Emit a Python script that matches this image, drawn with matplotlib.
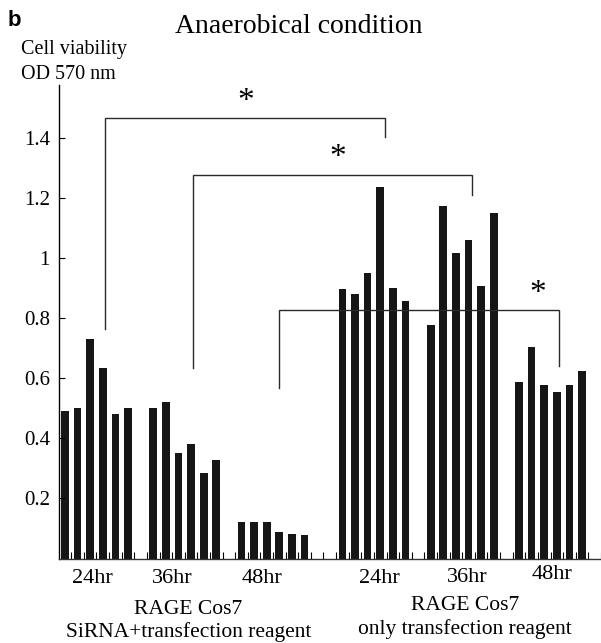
import matplotlib
matplotlib.use("Agg")
import matplotlib.pyplot as plt
from matplotlib.transforms import blended_transform_factory

plt.rcParams['font.family'] = ['Liberation Serif', 'DejaVu Serif']

# cell viability (OD 570 nm), six wells per time point
sirna_24 = [0.49, 0.50, 0.733, 0.636, 0.481, 0.50]
sirna_36 = [0.50, 0.523, 0.351, 0.382, 0.284, 0.328]
sirna_48 = [0.121, 0.121, 0.121, 0.088, 0.083, 0.077]
only_24 = [0.897, 0.882, 0.953, 1.239, 0.903, 0.859]
only_36 = [0.778, 1.175, 1.017, 1.061, 0.909, 1.153]
only_48 = [0.588, 0.706, 0.578, 0.556, 0.578, 0.626]

series = [sirna_24, sirna_36, sirna_48, only_24, only_36, only_48]
group_start = [0, 7, 14, 22, 29, 36]   # slot of first bar in each group
time_labels = ['24hr', '36hr', '48hr', '24hr', '36hr', '48hr']
yticks = [0.2, 0.4, 0.6, 0.8, 1.0, 1.2, 1.4]
ytick_labels = ['0.2', '0.4', '0.6', '0.8', '1', '1.2', '1.4']

# significance brackets: x left, x right, top, left leg bottom, right leg bottom, star x, star y
brackets = [
    (3.2, 25.4, 1.467, 0.764, 1.404, 14.3, 1.523),
    (10.13, 32.25, 1.278, 0.634, 1.211, 21.6, 1.335),
    (16.97, 39.17, 0.828, 0.567, 0.641, 37.5, 0.884),
]

fig = plt.figure(figsize=(6.01, 6.43), dpi=100)
ax = fig.add_axes([0.0977, 0.1314, 0.9023, 0.7364])

for start, vals in zip(group_start, series):
    xs = [start + i for i in range(len(vals))]
    ax.bar(xs, vals, width=0.61, color='#161616', linewidth=0)

for xl, xr, top, yl, yr, sx, sy in brackets:
    ax.plot([xl, xl, xr, xr], [yl, top, top, yr], color='#2a2a2a', lw=1.0,
            solid_joinstyle='miter')
    ax.text(sx, sy, '*', ha='center', va='center', fontsize=24)

ax.set_xlim(-0.49, 42.5)
ax.set_ylim(0, 1.578)
ax.set_yticks(yticks)
ax.set_yticklabels(ytick_labels)
ax.set_xticks([k + 0.5 for k in range(0, 43)])
ax.set_xticklabels([])
ax.tick_params(axis='y', direction='in', length=4.3, width=0.8, pad=6.3,
               labelsize=15)
ax.tick_params(axis='x', direction='in', length=4.8, width=0.8)
for s in ['top', 'right']:
    ax.spines[s].set_visible(False)
ax.spines['left'].set_linewidth(1.0)
ax.spines['bottom'].set_linewidth(1.0)
ax.spines['bottom'].set_color('#333333')

tr = blended_transform_factory(ax.transData, fig.transFigure)
label_x = [2.2, 8.5, 15.66, 24.9, 31.86, 38.6]
label_base = [582.7, 582.7, 582.7, 583.3, 581.7, 579.0]
for x, yb, t in zip(label_x, label_base, time_labels):
    ax.text(x, 1 - yb / 643, t, transform=tr, ha='center', va='baseline',
            fontsize=16)

ax.text(9.8, 1 - 613.5 / 643, 'RAGE Cos7', transform=tr, ha='center',
        va='baseline', fontsize=15.5)
ax.text(9.8, 1 - 637 / 643, 'SiRNA+transfection reagent', transform=tr,
        ha='center', va='baseline', fontsize=15.5)
ax.text(31.7, 1 - 610 / 643, 'RAGE Cos7', transform=tr, ha='center',
        va='baseline', fontsize=15.5)
ax.text(31.7, 1 - 634 / 643, 'only transfection reagent', transform=tr,
        ha='center', va='baseline', fontsize=15.5)

fig.text(8 / 601, 1 - 26 / 643, 'b', family='Liberation Sans',
         fontweight='bold', fontsize=16, va='baseline')
fig.text(175 / 601, 1 - 33 / 643, 'Anaerobical condition', fontsize=20,
         va='baseline')
fig.text(20.7 / 601, 1 - 54.3 / 643, 'Cell viability', fontsize=14.5,
         va='baseline')
fig.text(20.7 / 601, 1 - 79 / 643, 'OD 570 nm', fontsize=14.5, va='baseline')

fig.savefig('out.png', dpi=100)
